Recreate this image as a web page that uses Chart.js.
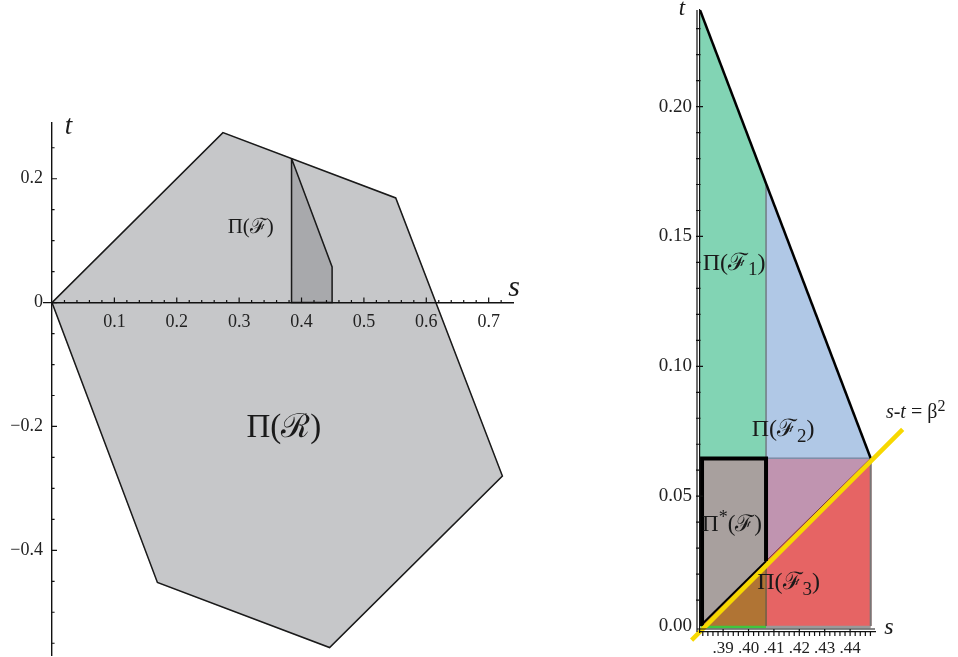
<!DOCTYPE html>
<html>
<head>
<meta charset="utf-8">
<script src="https://cdn.jsdelivr.net/npm/chart.js@4.4.1/dist/chart.umd.min.js"></script>
<style>
html, body { margin: 0; padding: 0; background: #fff; }
#wrap { position: relative; width: 958px; height: 657px; }
#left { position: absolute; left: 0; top: 0; }
#right { position: absolute; left: 600px; top: 0; }
</style>
</head>
<body>
<div id="wrap">
  <canvas id="left" width="540" height="657"></canvas>
  <canvas id="right" width="358" height="657"></canvas>
</div>
<script>
const SERIF = '"Liberation Serif", "DejaVu Serif", serif';

// ---- left panel: (s, t) vertices
const regionR = [[0, 0], [0.274, 0.2745], [0.551, 0.169], [0.722, -0.280], [0.445, -0.557], [0.169, -0.452], [0, 0]];
const regionF = [[0.384, 0.2325], [0.449, 0.0577], [0.449, 0], [0.384, 0], [0.384, 0.2325]];
const leftXLabels = [0.1, 0.2, 0.3, 0.4, 0.5, 0.6, 0.7];
const leftYLabels = [-0.4, -0.2, 0, 0.2];

// ---- right panel: (s, t) vertices
const f1Green = [[0.3809, 0.0646], [0.3809, 0.2372], [0.4069, 0.1700], [0.4069, 0.0646]];
const f2Blue = [[0.4069, 0.0646], [0.4069, 0.1700], [0.4481, 0.0646]];
const f23Purple = [[0.4069, 0.0646], [0.4481, 0.0646], [0.4069, 0.0250]];
const f3Red = [[0.4069, 0.0250], [0.4481, 0.0646], [0.4481, 0], [0.4069, 0]];
const starGray = [[0.3809, 0], [0.3809, 0.0646], [0.4069, 0.0646], [0.4069, 0.0250], [0.3815, 0.0005]];
const cornerBrown = [[0.3812, 0], [0.4069, 0.0250], [0.4069, 0]];
const topEdge = [[0.3809, 0.2372], [0.4481, 0.0646]];
const starBox = [[0.4069, 0.0250], [0.4069, 0.0645], [0.3817, 0.0645], [0.3817, 0]];
const starDiag = [[0.3815, 0.0005], [0.4069, 0.0250]];
const divider = [[0.4069, 0], [0.4069, 0.1700]];
const midLine = [[0.4069, 0.0646], [0.4481, 0.0646]];
const redEdge = [[0.4481, 0], [0.4481, 0.0646]];
const redDiag = [[0.4069, 0.0250], [0.4481, 0.0646]];
const greenStrip = [[0.3812, -0.0004], [0.4069, -0.0004]];
const grayStrip = [[0.4069, -0.0004], [0.4481, -0.0004]];
const betaLine = [[0.3776, -0.0054], [0.4607, 0.0757]];
const rightXLabels = [0.39, 0.40, 0.41, 0.42, 0.43, 0.44];
const rightYLabels = [0, 0.05, 0.10, 0.15, 0.20];

function steps(a, b, d) {
  const out = [];
  for (let i = 0; a + i * d <= b + 1e-9; i++) out.push(+(a + i * d).toFixed(4));
  return out;
}

function line(points, color, width, order, extra) {
  return Object.assign({
    data: points.map(p => ({ x: p[0], y: p[1] })),
    showLine: true, pointRadius: 0, tension: 0,
    borderColor: color, borderWidth: width,
    fill: false, order: order
  }, extra || {});
}

function area(points, color, order) {
  return line(points.concat([points[0]]), color, 0.8, order, { backgroundColor: color, fill: 'shape' });
}

function drawRich(ctx, parts, x, y, size, align) {
  const fontFor = k => (k === 'i' ? 'italic ' : '') +
    Math.round(k === 'sub' || k === 'sup' ? size * 0.8 : size) + 'px ' + SERIF;
  let w = 0;
  parts.forEach(p => { ctx.font = fontFor(p[1]); w += ctx.measureText(p[0]).width; });
  let cx = align === 'left' ? x : x - w / 2;
  ctx.textAlign = 'left';
  ctx.textBaseline = 'middle';
  parts.forEach(p => {
    ctx.font = fontFor(p[1]);
    const dy = p[1] === 'sub' ? size * 0.3 : p[1] === 'sup' ? -size * 0.3 : 0;
    ctx.fillText(p[0], cx, y + dy);
    cx += ctx.measureText(p[0]).width;
  });
}

// Mathematica-like axes: inward tick marks, ladder lines and text notes
const mmaAxes = {
  id: 'mmaAxes',
  afterDraw(chart, args, o) {
    const ctx = chart.ctx, xs = chart.scales.x, ys = chart.scales.y, ca = chart.chartArea;
    ctx.save();
    ctx.strokeStyle = '#111';
    ctx.lineWidth = 1.2;
    const x0 = o.yAxisAt === undefined ? ca.left : xs.getPixelForValue(o.yAxisAt);
    const y0 = o.xAxisAt === undefined ? ca.bottom : ys.getPixelForValue(o.xAxisAt);
    ctx.beginPath();
    if (o.ladder) {
      ctx.moveTo(x0 - 3, ca.top); ctx.lineTo(x0 - 3, ca.bottom);
      ctx.moveTo(x0 - 3, y0 - 3); ctx.lineTo(ca.right, y0 - 3);
    }
    if (o.xStub) { ctx.moveTo(x0 - o.xStub, y0); ctx.lineTo(x0, y0); }
    o.xMinor.forEach(v => {
      const p = xs.getPixelForValue(v);
      const len = o.xMajor.some(m => Math.abs(m - v) < 1e-6) ? o.majorLen : o.minorLen;
      ctx.moveTo(p, y0 + o.tickBack); ctx.lineTo(p, y0 - len);
    });
    o.yMinor.forEach(v => {
      const p = ys.getPixelForValue(v);
      const len = o.yMajor.some(m => Math.abs(m - v) < 1e-6) ? o.majorLen : o.minorLen;
      ctx.moveTo(x0 - o.tickBack, p); ctx.lineTo(x0 + len, p);
    });
    ctx.stroke();
    ctx.fillStyle = '#1a1a1a';
    o.notes.forEach(n => drawRich(ctx, n.parts, xs.getPixelForValue(n.s), ys.getPixelForValue(n.t), n.size, n.align));
    ctx.restore();
  }
};

function tickFont(size) { return { family: SERIF, size: size }; }
function noPadX(s, h) { s.height = h; s.paddingLeft = 0; s.paddingRight = 0; }
function noPadY(s, w) { s.width = w; s.paddingTop = 0; s.paddingBottom = 0; }

// ---------------- left chart
new Chart(document.getElementById('left'), {
  type: 'scatter',
  data: {
    datasets: [
      area(regionF, '#a8a9ac', 2),
      area(regionR, '#c6c7c9', 3),
      line(regionF, '#1a1a1a', 1.5, 0),
      line(regionR, '#1a1a1a', 1.5, 1)
    ]
  },
  options: {
    responsive: false,
    animation: false,
    events: [],
    layout: { padding: { left: 0, right: 27, top: 123, bottom: 2 } },
    plugins: {
      legend: { display: false },
      tooltip: { enabled: false },
      mmaAxes: {
        xAxisAt: 0, yAxisAt: 0, xStub: 9, tickBack: 0, majorLen: 5, minorLen: 2.6,
        xMinor: steps(0.02, 0.72, 0.02), xMajor: leftXLabels,
        yMinor: steps(-0.55, 0.25, 0.05), yMajor: leftYLabels,
        notes: [
          { parts: [['Π(', ''], ['ℱ', ''], [')', '']], s: 0.3186, t: 0.1218, size: 21 },
          { parts: [['Π(', ''], ['ℛ', ''], [')', '']], s: 0.3716, t: -0.2024, size: 33 },
          { parts: [['t', 'i']], s: 0.0265, t: 0.283, size: 27 },
          { parts: [['s', 'i']], s: 0.7408, t: 0.0234, size: 30 }
        ]
      }
    },
    scales: {
      x: {
        type: 'linear', min: 0, max: 0.739, position: { y: 0 },
        afterFit: s => noPadX(s, 0),
        afterBuildTicks: s => { s.ticks = leftXLabels.map(v => ({ value: v })); },
        grid: { display: false, drawTicks: false },
        border: { display: true, color: '#111', width: 1.4, z: 1 },
        ticks: { z: 1, padding: 9, color: '#222', font: tickFont(18), maxRotation: 0, autoSkip: false,
                 callback: v => v.toFixed(1) }
      },
      y: {
        type: 'linear', min: -0.569, max: 0.29, position: 'left',
        afterFit: s => noPadY(s, 52),
        afterBuildTicks: s => { s.ticks = leftYLabels.map(v => ({ value: v })); },
        grid: { display: false, drawTicks: false },
        border: { display: true, color: '#111', width: 1.4, z: 1 },
        ticks: { z: 1, padding: 9, color: '#222', font: tickFont(18), autoSkip: false,
                 callback: v => v === 0 ? '0' : (v < 0 ? '\u2212' : '') + Math.abs(v).toFixed(1) }
      }
    }
  },
  plugins: [mmaAxes]
});

// ---------------- right chart
new Chart(document.getElementById('right'), {
  type: 'scatter',
  data: {
    datasets: [
      line(betaLine, '#f7d800', 4.5, 0, { clip: false }),
      line(starBox, '#000', 4, 1),
      line(starDiag, '#000', 2, 2),
      line(topEdge, '#000', 2.5, 2),
      line(redDiag, '#6e3a3a', 1, 3),
      line(divider, '#555', 1, 3),
      line(midLine, '#7d8ea8', 1.5, 3),
      line(redEdge, '#777', 2, 3),
      line(greenStrip, '#3fc63f', 2.5, 4, { clip: false }),
      line(grayStrip, '#9a9a9a', 2.5, 4, { clip: false }),
      area(cornerBrown, '#b07434', 10),
      area(starGray, '#a8a09e', 11),
      area(f3Red, '#e66464', 12),
      area(f23Purple, '#c094b0', 13),
      area(f2Blue, '#b0c8e6', 14),
      area(f1Green, '#82d4b4', 15)
    ]
  },
  options: {
    responsive: false,
    animation: false,
    events: [],
    layout: { padding: { left: 0, right: 83, top: 10, bottom: 0 } },
    plugins: {
      legend: { display: false },
      tooltip: { enabled: false },
      mmaAxes: {
        ladder: true, tickBack: 4, majorLen: 3, minorLen: 0.5,
        xMinor: steps(0.382, 0.448, 0.002), xMajor: rightXLabels,
        yMinor: steps(0.01, 0.23, 0.01), yMajor: rightYLabels,
        notes: [
          { parts: [['Π(', ''], ['ℱ', ''], ['1', 'sub'], [')', '']], s: 0.3943, t: 0.1397, size: 24 },
          { parts: [['Π(', ''], ['ℱ', ''], ['2', 'sub'], [')', '']], s: 0.4136, t: 0.0755, size: 24 },
          { parts: [['Π', ''], ['*', 'sup'], ['(', ''], ['ℱ', ''], [')', '']], s: 0.3935, t: 0.0389, size: 23 },
          { parts: [['Π(', ''], ['ℱ', ''], ['3', 'sub'], [')', '']], s: 0.4158, t: 0.0166, size: 24 },
          { parts: [['s', 'i'], ['-', ''], ['t', 'i'], [' = ', ''], ['β', ''], ['2', 'sup']], s: 0.4541, t: 0.0820, size: 20, align: 'left' },
          { parts: [['t', 'i']], s: 0.3738, t: 0.2375, size: 23 },
          { parts: [['s', 'i']], s: 0.4553, t: -0.0008, size: 24 }
        ]
      }
    },
    scales: {
      x: {
        type: 'linear', min: 0.3809, max: 0.4498, position: 'bottom',
        afterFit: s => noPadX(s, 25),
        afterBuildTicks: s => { s.ticks = rightXLabels.map(v => ({ value: v })); },
        grid: { display: false, drawTicks: false },
        border: { display: true, color: '#111', width: 1.2, z: 1 },
        ticks: { z: 1, padding: 6, color: '#222', font: tickFont(17), maxRotation: 0, autoSkip: false,
                 callback: v => v.toFixed(2).replace(/^0/, '') }
      },
      y: {
        type: 'linear', min: -0.0023, max: 0.2372, position: 'left',
        afterFit: s => noPadY(s, 100),
        afterBuildTicks: s => { s.ticks = rightYLabels.map(v => ({ value: v })); },
        grid: { display: false, drawTicks: false },
        border: { display: true, color: '#111', width: 1.2, z: 1 },
        ticks: { z: 1, padding: 8, color: '#222', font: tickFont(19), autoSkip: false,
                 callback: v => v.toFixed(2) }
      }
    }
  },
  plugins: [mmaAxes]
});
</script>
</body>
</html>
